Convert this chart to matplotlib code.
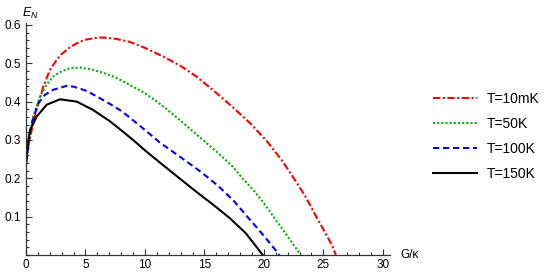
import numpy as np
import matplotlib
matplotlib.use("Agg")
import matplotlib.pyplot as plt
from matplotlib.ticker import MultipleLocator, FormatStrFormatter

plt.rcParams['font.family'] = ['Liberation Sans', 'DejaVu Sans']
plt.rcParams['mathtext.fontset'] = 'custom'
plt.rcParams['mathtext.it'] = 'Liberation Sans:italic'
plt.rcParams['mathtext.rm'] = 'Liberation Sans'

# valores
x_10mK = [0, 0.2, 0.48, 0.9, 1.46, 2.0, 2.6, 3.0, 3.7, 4.5, 5.1, 6.0, 6.5, 7.5, 8.7,
          10.0, 11.5, 13.0, 14.3, 15.8, 17.4, 18.9, 20.3, 21.5, 22.6, 23.5,
          24.4, 25.2, 25.7, 26.05]
y_10mK = [0.24, 0.283, 0.326, 0.38, 0.44, 0.482, 0.51, 0.524, 0.542, 0.556, 0.562, 0.567,
          0.567, 0.564, 0.556, 0.54, 0.518, 0.493, 0.466, 0.428, 0.385, 0.342,
          0.295, 0.247, 0.196, 0.152, 0.10, 0.055, 0.027, 0.0]

x_50K = [0, 0.2, 0.6, 1.18, 1.7, 2.3, 3.0, 3.7, 4.5, 5.5, 6.5, 7.3, 7.9, 9.0,
         10.1, 11.0, 11.8, 13.0, 14.5, 16.0, 17.4, 18.2, 19.1, 20.0, 20.8,
         21.5, 22.3, 23.1]
y_50K = [0.24, 0.29, 0.361, 0.413, 0.443, 0.466, 0.479, 0.487, 0.489, 0.484,
         0.475, 0.466, 0.457, 0.439, 0.42, 0.4, 0.381, 0.35, 0.31, 0.27, 0.23,
         0.2, 0.17, 0.135, 0.10, 0.07, 0.035, 0.0]

x_100K = [0, 0.2, 0.48, 1.04, 1.6, 2.3, 3.4, 4.0, 5.1, 6.2, 7.0, 7.9, 8.5, 10.0,
          11.3, 13.0, 14.6, 15.5, 16.3, 17.5, 18.6, 19.5, 20.4, 21.3]
y_100K = [0.24, 0.29, 0.344, 0.396, 0.418, 0.431, 0.441, 0.439, 0.428, 0.409,
          0.395, 0.378, 0.364, 0.326, 0.292, 0.255, 0.219, 0.197, 0.176, 0.14,
          0.10, 0.068, 0.035, 0.0]

x_150K = [0, 0.15, 0.34, 0.9, 1.74, 2.86, 4.26, 5.6, 7.0, 7.9, 9.0, 10.0, 11.3,
          12.9, 14.6, 15.7, 17.1, 18.5, 19.9]
y_150K = [0.24, 0.29, 0.326, 0.361, 0.392, 0.406, 0.40, 0.379, 0.35, 0.328,
          0.30, 0.273, 0.24, 0.2, 0.158, 0.132, 0.097, 0.056, 0.0]

labels = ['T=10mK', 'T=50K', 'T=100K', 'T=150K']

fig = plt.figure(figsize=(5.5, 2.73), dpi=100)
ax = fig.add_axes([26/550, 1 - 255/273, (390 - 26)/550, (255 - 23)/273])

lw = 1.5
ax.plot(x_10mK, y_10mK, color=(1, 0, 0), lw=lw, dashes=(3.5, 1.2, 1.0, 1.2), label=labels[0])
ax.plot(x_50K, y_50K, color=(0, 0.7, 0), lw=lw, dashes=(1.0, 1.0), label=labels[1])
ax.plot(x_100K, y_100K, color=(0, 0, 1), lw=lw, dashes=(3.0, 1.8), label=labels[2])
ax.plot(x_150K, y_150K, color='black', lw=lw, label=labels[3])

ax.set_xlim(0, 30.6)
ax.set_ylim(0, 0.605)
ax.xaxis.set_major_locator(MultipleLocator(5))
ax.xaxis.set_minor_locator(MultipleLocator(1))
ax.yaxis.set_major_locator(MultipleLocator(0.1))
ax.yaxis.set_minor_locator(MultipleLocator(0.02))
ax.yaxis.set_major_formatter(FormatStrFormatter('%.1f'))
ax.set_yticks([0.1, 0.2, 0.3, 0.4, 0.5, 0.6])

for s in ['top', 'right']:
    ax.spines[s].set_visible(False)
for s in ['left', 'bottom']:
    ax.spines[s].set_color('#333333')
    ax.spines[s].set_linewidth(0.9)
ax.tick_params(which='both', direction='in', color='#333333', labelsize=8.5, width=0.8)
ax.tick_params(which='major', length=4)
ax.tick_params(which='minor', length=2.2)
ax.tick_params(axis='x', pad=3)

fig.text(22/550, 1 - 13/273, '$E_N$', fontsize=9, va='center', ha='left')
fig.text(400/550, 1 - 255/273, 'G/κ', fontsize=8.5, va='center', ha='left')

fig.legend(loc='upper left', bbox_to_anchor=(433/550, 1 - 92/273), frameon=False,
           fontsize=10, handlelength=3.2, handletextpad=0.7, labelspacing=0.8,
           borderpad=0, borderaxespad=0)

fig.savefig('out.png', dpi=100)
